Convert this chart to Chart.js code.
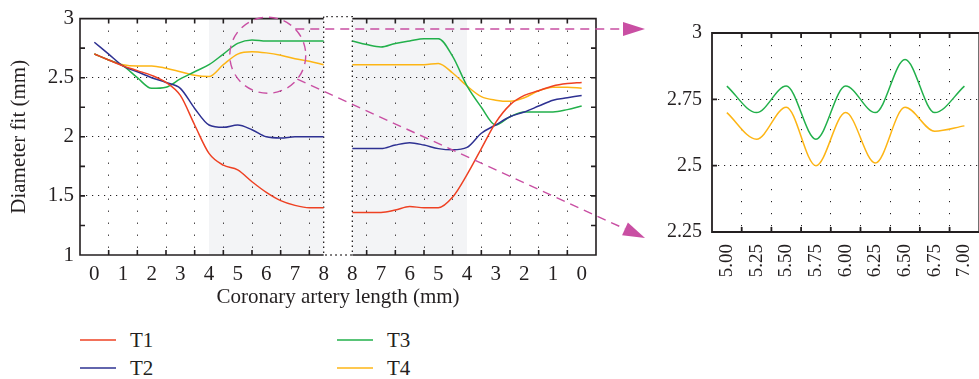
<!DOCTYPE html>
<html>
<head>
<meta charset="utf-8">
<script src="https://cdn.jsdelivr.net/npm/chart.js@4.4.1/dist/chart.umd.min.js"></script>
<style>
  html, body { margin: 0; padding: 0; background: #fff; }
  body { width: 979px; height: 379px; overflow: hidden; position: relative; font-family: "Liberation Serif", "DejaVu Serif", serif; color: #231f20; }
  #mainWrap { position: absolute; left: 0; top: 0; width: 660px; height: 310px; }
  #zoomWrap { position: absolute; left: 655px; top: 0; width: 345px; height: 310px; }
  #legend { position: absolute; left: 80px; top: 326px; display: grid; grid-auto-flow: column; grid-template-columns: 257px 257px; grid-template-rows: 28px 28px; }
  .item { display: flex; align-items: center; font-size: 21px; }
  .swatch { width: 36px; height: 2px; margin-right: 14px; opacity: 0.75; }
</style>
</head>
<body>
<div id="mainWrap"><canvas id="mainChart" width="660" height="310"></canvas></div>
<div id="zoomWrap"><canvas id="zoomChart" width="345" height="310"></canvas></div>
<div id="legend"></div>
<script>
// series
const seriesNames = ["T1", "T2", "T3", "T4"];
const seriesColors = ["#ee4123", "#2e3192", "#22b04b", "#fdb515"];

// coronary artery length (mm): left panel goes 0 -> 8, right panel 8 -> 0
const lenForward = [0, 0.5, 1, 1.5, 2, 2.5, 3, 3.5, 4, 4.5, 5, 5.5, 6, 6.5, 7, 7.5, 8];
const lenBackward = [8, 7.5, 7, 6.5, 6, 5.5, 5, 4.5, 4, 3.5, 3, 2.5, 2, 1.5, 1, 0.5, 0];
const lenTicks = [0, 1, 2, 3, 4, 5, 6, 7, 8];
const shadeLen = [4, 8];

const t1Forward = [2.70, 2.65, 2.60, 2.56, 2.52, 2.46, 2.35, 2.10, 1.86, 1.76, 1.72, 1.62, 1.53, 1.46, 1.42, 1.40, 1.40];
const t1Backward = [1.36, 1.36, 1.36, 1.38, 1.41, 1.40, 1.40, 1.49, 1.68, 1.90, 2.12, 2.27, 2.35, 2.39, 2.43, 2.45, 2.46];
const t2Forward = [2.80, 2.70, 2.60, 2.55, 2.50, 2.46, 2.41, 2.24, 2.10, 2.08, 2.10, 2.06, 2.00, 1.99, 2.00, 2.00, 2.00];
const t2Backward = [1.90, 1.90, 1.90, 1.93, 1.95, 1.93, 1.90, 1.89, 1.91, 2.03, 2.10, 2.17, 2.21, 2.26, 2.31, 2.33, 2.35];
const t3Forward = [2.70, 2.65, 2.60, 2.50, 2.41, 2.42, 2.49, 2.55, 2.61, 2.70, 2.79, 2.82, 2.81, 2.81, 2.81, 2.81, 2.81];
const t3Backward = [2.81, 2.78, 2.76, 2.79, 2.81, 2.83, 2.83, 2.68, 2.43, 2.25, 2.10, 2.17, 2.21, 2.21, 2.21, 2.23, 2.26];
const t4Forward = [2.70, 2.65, 2.61, 2.60, 2.60, 2.58, 2.55, 2.52, 2.51, 2.61, 2.70, 2.72, 2.71, 2.69, 2.66, 2.64, 2.61];
const t4Backward = [2.61, 2.61, 2.61, 2.61, 2.61, 2.61, 2.62, 2.54, 2.43, 2.34, 2.31, 2.30, 2.33, 2.39, 2.42, 2.42, 2.41];

const yTicks = [1, 1.5, 2, 2.5, 3];
const yMarks = [1.25, 1.5, 1.75, 2, 2.25, 2.5, 2.75];

// zoomed inset (5.00 - 7.00 mm)
const zoomLen = [5.00, 5.25, 5.50, 5.75, 6.00, 6.25, 6.50, 6.75, 7.00];
const zoomT3 = [2.80, 2.70, 2.80, 2.60, 2.80, 2.70, 2.90, 2.70, 2.80];
const zoomT4 = [2.70, 2.60, 2.72, 2.50, 2.70, 2.51, 2.72, 2.63, 2.65];
const zoomYTicks = [2.25, 2.5, 2.75, 3];

// callout (circle on main chart -> inset)
const focusLen = 6.05;
const focusValue = 2.69;

const textColor = "#231f20";
const dotColor = "#231f20";
const bandColor = "#f3f4f6";
const calloutColor = "#c94fa3";

Chart.defaults.font.family = "'Liberation Serif', 'DejaVu Serif', serif";
Chart.defaults.color = textColor;

// right panel is placed after a one unit gap: 8 -> pos 9, 0 -> pos 17
const GAP = 9;
const toPos = (len) => GAP + 8 - len;
const toLen = (pos) => (pos <= 8 ? pos : GAP + 8 - pos);

const forward = [t1Forward, t2Forward, t3Forward, t4Forward];
const backward = [t1Backward, t2Backward, t3Backward, t4Backward];

// 1. Legend
const legendEl = document.getElementById("legend");
seriesNames.forEach((name, i) => {
  const item = document.createElement("div");
  item.className = "item";
  item.innerHTML = `<span class="swatch" style="background:${seriesColors[i]}"></span><span>${name}</span>`;
  legendEl.appendChild(item);
});

// 2. Main chart
const mainDatasets = seriesNames.map((name, i) => ({
  label: name,
  data: [
    ...lenForward.map((l, j) => ({ x: l, y: forward[i][j] })),
    { x: 8.5, y: null },
    ...lenBackward.map((l, j) => ({ x: toPos(l), y: backward[i][j] })),
  ],
  borderColor: seriesColors[i],
  borderWidth: 1.5,
  pointRadius: 0,
  cubicInterpolationMode: "monotone",
  spanGaps: false,
}));

const xTickPos = [...lenTicks, ...lenTicks.slice().reverse().map(toPos)];

const mainFrame = {
  id: "mainFrame",
  beforeDraw(chart) {
    const { ctx, chartArea: a, scales: { x } } = chart;
    ctx.save();
    ctx.fillStyle = bandColor;
    const l1 = x.getPixelForValue(shadeLen[0]);
    const r1 = x.getPixelForValue(shadeLen[1]);
    const l2 = x.getPixelForValue(toPos(shadeLen[1]));
    const r2 = x.getPixelForValue(toPos(shadeLen[0]));
    ctx.fillRect(l1, a.top, r1 - l1, a.bottom - a.top);
    ctx.fillRect(l2, a.top, r2 - l2, a.bottom - a.top);
    ctx.restore();
  },
  beforeDatasetsDraw(chart) {
    const { ctx, chartArea: a, scales: { x, y } } = chart;
    const g0 = x.getPixelForValue(8);
    const g1 = x.getPixelForValue(GAP);
    ctx.save();
    ctx.fillStyle = "#fff";
    ctx.fillRect(g0, a.top - 4, g1 - g0, a.bottom - a.top + 5);

    ctx.strokeStyle = textColor;
    ctx.lineWidth = 1.6;
    ctx.beginPath();
    ctx.moveTo(g0, a.top); ctx.lineTo(a.left, a.top); ctx.lineTo(a.left, a.bottom); ctx.lineTo(g0, a.bottom);
    ctx.moveTo(g1, a.top); ctx.lineTo(a.right, a.top); ctx.lineTo(a.right, a.bottom); ctx.lineTo(g1, a.bottom);
    // tick marks, pointing inwards, between the labels
    lenTicks.slice(0, -1).forEach((l) => {
      [l + 0.5, toPos(l + 0.5)].forEach((p) => {
        const px = x.getPixelForValue(p);
        ctx.moveTo(px, a.bottom); ctx.lineTo(px, a.bottom - 5);
        ctx.moveTo(px, a.top); ctx.lineTo(px, a.top + 5);
      });
    });
    yMarks.forEach((v) => {
      const py = y.getPixelForValue(v);
      ctx.moveTo(a.left, py); ctx.lineTo(a.left + 5, py);
      ctx.moveTo(a.right, py); ctx.lineTo(a.right - 5, py);
    });
    ctx.stroke();

    // dotted box around the axis break
    ctx.setLineDash([1.5, 3.5]);
    ctx.lineWidth = 1.3;
    ctx.beginPath();
    ctx.moveTo(g0, a.top - 2); ctx.lineTo(g0, a.bottom); ctx.lineTo(g1, a.bottom);
    ctx.lineTo(g1, a.top - 2); ctx.lineTo(g0, a.top - 2);
    ctx.stroke();
    ctx.restore();
  },
  afterDraw(chart) {
    const { ctx, scales: { x, y } } = chart;
    const cx = x.getPixelForValue(focusLen);
    const cy = y.getPixelForValue(focusValue);
    const r = 38;
    const hy = 29;
    const starts = [
      [cx + Math.sqrt(r * r - (hy - cy) * (hy - cy)), hy],
      [cx + r * Math.cos(0.68), cy + r * Math.sin(0.68)],
    ];
    const ends = [[645, 29], [645, 238]];
    ctx.save();
    ctx.strokeStyle = calloutColor;
    ctx.fillStyle = calloutColor;
    ctx.lineWidth = 1.4;
    ctx.setLineDash([9, 6]);
    ctx.beginPath();
    ctx.arc(cx, cy, r, 0, Math.PI * 2);
    ctx.stroke();
    starts.forEach((s, i) => {
      const e = ends[i];
      const ang = Math.atan2(e[1] - s[1], e[0] - s[0]);
      const bx = e[0] - 22 * Math.cos(ang);
      const by = e[1] - 22 * Math.sin(ang);
      ctx.setLineDash([9, 6]);
      ctx.beginPath();
      ctx.moveTo(s[0], s[1]);
      ctx.lineTo(bx, by);
      ctx.stroke();
      ctx.setLineDash([]);
      ctx.beginPath();
      ctx.moveTo(e[0], e[1]);
      ctx.lineTo(bx + 7 * Math.sin(ang), by - 7 * Math.cos(ang));
      ctx.lineTo(bx - 7 * Math.sin(ang), by + 7 * Math.cos(ang));
      ctx.closePath();
      ctx.fill();
    });
    ctx.restore();
  },
};

new Chart(document.getElementById("mainChart"), {
  type: "line",
  data: { datasets: mainDatasets },
  plugins: [mainFrame],
  options: {
    responsive: false,
    animation: false,
    layout: { padding: { top: 15, right: 64, bottom: 0, left: 0 } },
    plugins: { legend: { display: false }, tooltip: { enabled: false } },
    scales: {
      x: {
        type: "linear",
        min: -0.5,
        max: 17.5,
        afterBuildTicks: (s) => { s.ticks = xTickPos.map((v) => ({ value: v })); },
        afterFit: (s) => { s.height = 55; },
        ticks: { autoSkip: false, maxRotation: 0, padding: 7, font: { size: 21 }, callback: (v) => toLen(v) },
        grid: {
          offset: true,
          drawTicks: false,
          color: (c) => (c.tick && c.tick.value !== 0 && c.tick.value !== GAP ? dotColor : "transparent"),
        },
        border: { display: false, dash: [1.2, 10.8] },
        title: { display: true, text: "Coronary artery length (mm)", font: { size: 21 }, padding: 0 },
      },
      y: {
        min: 1,
        max: 3,
        afterBuildTicks: (s) => { s.ticks = yTicks.map((v) => ({ value: v })); },
        afterFit: (s) => { s.width = 80; },
        ticks: { padding: 6, font: { size: 21 }, callback: (v) => String(v) },
        grid: {
          drawTicks: false,
          color: (c) => (c.tick && c.tick.value > 1 && c.tick.value < 3 ? dotColor : "transparent"),
        },
        border: { display: false, dash: [1.2, 4.8] },
        title: { display: true, text: "Diameter fit (mm)", font: { size: 21 }, padding: { top: 7, bottom: 0 } },
      },
    },
  },
});

// 3. Zoomed inset
const zoomFrame = {
  id: "zoomFrame",
  beforeDatasetsDraw(chart) {
    const { ctx, chartArea: a, scales: { x, y } } = chart;
    ctx.save();
    ctx.strokeStyle = textColor;
    ctx.lineWidth = 1.8;
    ctx.beginPath();
    ctx.rect(a.left, a.top, a.right - a.left, a.bottom - a.top);
    zoomLen.slice(0, -1).forEach((l, i) => {
      const px = x.getPixelForValue((l + zoomLen[i + 1]) / 2);
      ctx.moveTo(px, a.bottom); ctx.lineTo(px, a.bottom - 5);
      ctx.moveTo(px, a.top); ctx.lineTo(px, a.top + 5);
    });
    zoomYTicks.slice(1, -1).forEach((v) => {
      const py = y.getPixelForValue(v);
      ctx.moveTo(a.left, py); ctx.lineTo(a.left + 5, py);
    });
    ctx.stroke();
    ctx.restore();
  },
};

new Chart(document.getElementById("zoomChart"), {
  type: "line",
  data: {
    datasets: [
      { label: seriesNames[2], data: zoomLen.map((l, i) => ({ x: l, y: zoomT3[i] })), borderColor: seriesColors[2] },
      { label: seriesNames[3], data: zoomLen.map((l, i) => ({ x: l, y: zoomT4[i] })), borderColor: seriesColors[3] },
    ],
  },
  plugins: [zoomFrame],
  options: {
    responsive: false,
    animation: false,
    layout: { padding: { top: 33, right: 14, bottom: 0, left: 0 } },
    elements: { point: { radius: 0 }, line: { borderWidth: 1.5, cubicInterpolationMode: "monotone" } },
    plugins: { legend: { display: false }, tooltip: { enabled: false } },
    scales: {
      x: {
        type: "linear",
        min: 4.875,
        max: 7.125,
        afterBuildTicks: (s) => { s.ticks = zoomLen.map((v) => ({ value: v })); },
        afterFit: (s) => { s.height = 78; },
        ticks: { autoSkip: false, minRotation: 90, maxRotation: 90, padding: 12, font: { size: 19 }, callback: (v) => v.toFixed(2) },
        grid: {
          offset: true,
          drawTicks: false,
          color: (c) => (c.tick && c.index > 0 ? dotColor : "transparent"),
        },
        border: { display: false, dash: [1.2, 10.8] },
      },
      y: {
        min: 2.25,
        max: 3,
        afterBuildTicks: (s) => { s.ticks = zoomYTicks.map((v) => ({ value: v })); },
        afterFit: (s) => { s.width = 57; },
        ticks: { padding: 10, font: { size: 20 }, callback: (v) => String(v) },
        grid: {
          drawTicks: false,
          color: (c) => (c.tick && c.tick.value > 2.25 && c.tick.value < 3 ? dotColor : "transparent"),
        },
        border: { display: false, dash: [1.2, 4.8] },
      },
    },
  },
});
</script>
</body>
</html>
